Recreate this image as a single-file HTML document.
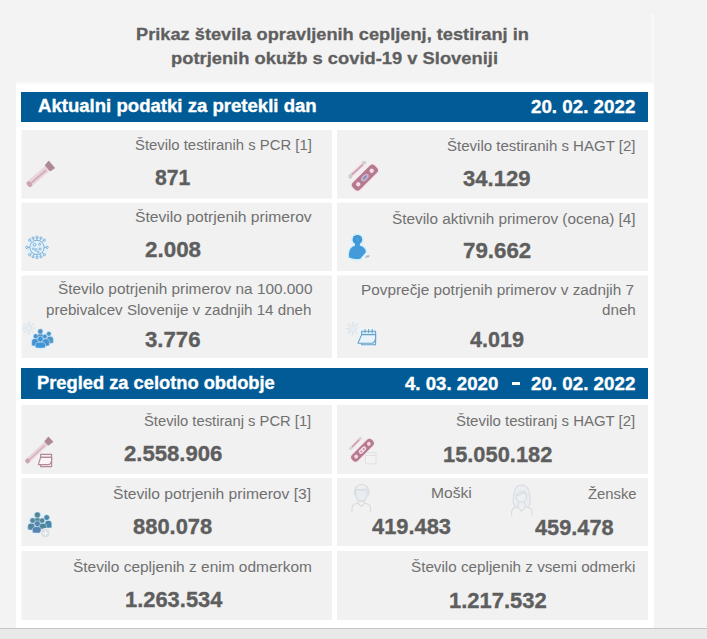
<!DOCTYPE html>
<html lang="sl"><head><meta charset="utf-8"><title>Covid-19 Slovenija</title>
<style>
html,body{margin:0;padding:0}
body{width:707px;height:639px;overflow:hidden;position:relative;font-family:"Liberation Sans", sans-serif}
.t{position:absolute;white-space:pre;transform-origin:0 0;display:block}
body{background:#f3f3f3}
.title{font-size:17.4px;font-weight:700;color:#5f5f5f;line-height:21px;-webkit-text-stroke:0.3px #5f5f5f;}
.hdr{font-size:18.3px;font-weight:700;color:#ffffff;line-height:22px;-webkit-text-stroke:0.35px #ffffff;}
.lab{font-size:15.5px;font-weight:400;color:#707070;line-height:19px;}
.val{font-size:22.7px;font-weight:700;color:#5e5e5e;line-height:27px;-webkit-text-stroke:0.35px #5e5e5e;}

.panel{position:absolute;left:16px;top:81px;width:638px;height:547px;background:linear-gradient(#f3f3f3,#fff 4px,#fff)}
.vline{position:absolute;left:651px;top:14px;width:3px;height:68px;background:#f8f8f8}
.bar{position:absolute;left:21px;width:627px;height:30px;background:#005b96}
.card{position:absolute;background:#f1f1f1}
.l{left:22px;width:310px;box-shadow:-1px 0 0 #f8f8f8}
.r{left:337px;width:311px}
.dash{position:absolute;left:512.2px;top:382px;width:7.7px;height:3px;background:#fff;color:transparent;font-size:1px;line-height:1px;overflow:hidden}
.foot{position:absolute;left:0;top:628px;width:707px;height:11px;background:#e9e9e9;border-top:1px solid #c6c6c6;box-sizing:border-box}
svg{position:absolute;overflow:visible}
</style></head><body>
<div class="vline"></div>
<div class="panel"></div>
<div class="bar" style="top:92px"></div>
<div class="bar" style="top:368px;height:31px"></div>
<div class="card l" style="top:130px;height:68px;box-shadow:-1px 0 0 #f8f8f8,0 1px 0 #f7f7f7"></div>
<div class="card r" style="top:130px;height:68px;box-shadow:0 1px 0 #f7f7f7"></div>
<div class="card l" style="top:203px;height:68px;box-shadow:-1px 0 0 #f8f8f8,0 -1px 0 #fbfbfb"></div>
<div class="card r" style="top:203px;height:68px;box-shadow:0 -1px 0 #fbfbfb"></div>
<div class="card l" style="top:276px;height:82px;box-shadow:-1px 0 0 #f8f8f8,0 -1px 0 #f7f7f7"></div>
<div class="card r" style="top:276px;height:82px;box-shadow:0 -1px 0 #f7f7f7"></div>
<div class="card l" style="top:405px;height:69px"></div>
<div class="card r" style="top:405px;height:69px"></div>
<div class="card l" style="top:478px;height:68px"></div>
<div class="card r" style="top:478px;height:68px"></div>
<div class="card l" style="top:551px;height:69px"></div>
<div class="card r" style="top:551px;height:69px"></div>
<div class="foot"></div>
<span class="dash">-</span>
<svg width="707" height="639" viewBox="0 0 707 639" style="left:0;top:0">
<defs>
 <g id="person"><circle cx="0" cy="-4.6" r="2.9"/><path d="M-4.6 4.6 C-4.6 -0.6 -2.6 -1.6 0 -1.6 C2.6 -1.6 4.6 -0.6 4.6 4.6 C2 5.6 -2 5.6 -4.6 4.6Z"/></g>
 <g id="tube">
  <rect x="-3.3" y="-11.5" width="6.6" height="27.5" rx="3.1" fill="#ead3db"/>
  <rect x="-0.4" y="-8" width="1.7" height="20" rx="0.8" fill="#cfaab8"/>
  <rect x="-3.1" y="11.8" width="6.2" height="4.2" rx="2.1" fill="#c9a4b2"/>
  <path d="M-4.4 -15.6 H4.4 L3.6 -10.6 H-3.6Z" fill="#ad8898" stroke="#ad8898" stroke-width="1" stroke-linejoin="round"/>
 </g>
 <g id="virusfaint" fill="none" stroke="#d9e2e9" stroke-width="0.9">
  <circle r="3.6" fill="#e6edf3"/>
  <path d="M0-3.6V-6 M0 3.6V6 M-3.6 0H-6 M3.6 0H6 M-2.5-2.5L-4.3-4.3 M2.5-2.5L4.3-4.3 M-2.5 2.5L-4.3 4.3 M2.5 2.5L4.3 4.3"/>
  <circle cx="0" cy="-6.3" r="0.9"/><circle cx="0" cy="6.3" r="0.9"/><circle cx="-6.3" cy="0" r="0.9"/><circle cx="6.3" cy="0" r="0.9"/>
  <circle cx="-4.6" cy="-4.6" r="0.9"/><circle cx="4.6" cy="-4.6" r="0.9"/><circle cx="-4.6" cy="4.6" r="0.9"/><circle cx="4.6" cy="4.6" r="0.9"/>
 </g>
</defs>

<!-- row1 left: PCR tube -->
<g transform="translate(39.8,175) rotate(49)"><use href="#tube"/></g>

<!-- row1 right: HAGT cassette + swab -->
<g>
 <line x1="351.4" y1="175" x2="362.8" y2="164.4" stroke="#f5e3ea" stroke-width="4.6" stroke-linecap="round"/>
 <line x1="352" y1="174.5" x2="362.4" y2="165" stroke="#cfa3b3" stroke-width="1.9" stroke-linecap="round"/>
 <ellipse cx="364" cy="162.8" rx="2.4" ry="1.7" fill="#cfcfcf"/><ellipse cx="350.4" cy="176.4" rx="2" ry="2.3" fill="#cdcdcd"/>
 <g transform="translate(364.9,177.6) rotate(-45)">
  <rect x="-16.6" y="-6.1" width="33.2" height="12.2" rx="4.6" fill="#f9e3eb"/>
  <rect x="-15.5" y="-5" width="31" height="10" rx="3.6" fill="#b47b90"/>
  <circle cx="-9.4" cy="0" r="2.2" fill="#fbdbe8"/><circle cx="9.6" cy="0" r="2.2" fill="#fbdbe8"/>
  <ellipse cx="0" cy="0" rx="4.6" ry="2.6" fill="#cdb6d2"/><ellipse cx="0" cy="0" rx="2.8" ry="1.3" fill="#8a8fb8"/>
 </g>
</g>

<!-- row2 left: virus -->
<g transform="translate(37,247.4) scale(0.94)" fill="none" stroke="#78acd3" stroke-width="0.95">
 <circle r="12.3" fill="#e4f1fa" stroke="none"/>
 <circle r="7.6" fill="#e0effa"/>
 <path d="M0-7.6V-10.2 M0 7.6V10.2 M-7.6 0H-10.2 M7.6 0H10.2 M-5.4-5.4L-7.2-7.2 M5.4-5.4L7.2-7.2 M-5.4 5.4L-7.2 7.2 M5.4 5.4L7.2 7.2 M-2.9-7L-3.9-9.4 M2.9-7L3.9-9.4 M-2.9 7L-3.9 9.4 M2.9 7L3.9 9.4"/>
 <circle cx="0" cy="-10.8" r="1.2"/><circle cx="0" cy="10.8" r="1.2"/><circle cx="-10.8" cy="0" r="1.2"/><circle cx="10.8" cy="0" r="1.2"/>
 <circle cx="-7.8" cy="-7.8" r="1.2"/><circle cx="7.8" cy="-7.8" r="1.2"/><circle cx="-7.8" cy="7.8" r="1.2"/><circle cx="7.8" cy="7.8" r="1.2"/>
 <circle cx="-4.2" cy="-10" r="1.1"/><circle cx="4.2" cy="-10" r="1.1"/><circle cx="4.2" cy="10" r="1.1"/><circle cx="-4.2" cy="10" r="1.1"/>
 <circle cx="-2.6" cy="-2.8" r="1.5"/><circle cx="2.8" cy="-3.4" r="1"/><circle cx="-1.2" cy="2.6" r="1.3"/><circle cx="3.2" cy="1.6" r="1.1"/><circle cx="-4.2" cy="1.4" r="0.8"/><circle cx="1.4" cy="5" r="0.8"/>
</g>

<!-- row2 right: person -->
<g>
 <g fill="#d3effb" stroke="#d3effb" stroke-width="3.2" stroke-linejoin="round"><circle cx="357.4" cy="239.7" r="4.8"/><path d="M349 257.2 C348.5 250 351 245.6 357.4 245.6 C363 245.6 365.7 249 365.9 252.4 L360.4 258.8 C356 259.4 351.8 258.8 349 257.2 Z"/></g>
 <path d="M360.6 258.6 L366.4 252.2 C368.4 252.6 369.6 254 369.8 255.6 L368.6 257 Z" fill="#e6f3fa"/>
 <path d="M366.8 255.4 L369.8 255.2 L368.8 257.2 L364.6 257.8 Z" fill="#aab4bc"/>
 <circle cx="357.4" cy="239.7" r="4.8" fill="#3f96d3"/>
 <rect x="354.9" y="243.2" width="5" height="3.5" fill="#439cd9"/>
 <path d="M349 257.2 C348.5 250 351 245.6 357.4 245.6 C363 245.6 365.7 249 365.9 252.2 L360.2 258.8 C356 259.4 351.8 258.8 349 257.2 Z" fill="#439cd9"/>
 <circle cx="357.6" cy="239.6" r="1.8" fill="#4aa3e0"/>
</g>

<!-- row3 left: group + faint virus -->
<g transform="translate(28.9,328.1) scale(0.85)"><use href="#virusfaint"/></g>
<g>
<circle cx="41.6" cy="339.8" r="11" fill="#e9f3f9"/>
<g fill="#5590c2" stroke="#c9e8f8" stroke-width="0.55"><path d="M37.00 340.00 V336.90 C37.00 334.54 38.34 333.80 40.35 333.80 C42.36 333.80 43.70 334.54 43.70 336.90 V340.00 C42.03 340.80 38.67 340.80 37.00 340.00Z"/><circle cx="40.35" cy="331.40" r="2.6"/></g>
<g fill="#4f97c6" stroke="#c9e8f8" stroke-width="0.55"><path d="M46.60 342.80 V339.50 C46.60 336.99 47.96 336.20 50.00 336.20 C52.04 336.20 53.40 336.99 53.40 339.50 V342.80 C51.70 343.60 48.30 343.60 46.60 342.80Z"/><circle cx="48.90" cy="333.80" r="2.4"/></g>
<g fill="#4a90cf" stroke="#c9e8f8" stroke-width="0.55"><path d="M31.70 345.40 V342.00 C31.70 339.42 33.08 338.60 35.15 338.60 C37.22 338.60 38.60 339.42 38.60 342.00 V345.40 C36.88 346.20 33.42 346.20 31.70 345.40Z"/><circle cx="35.70" cy="336.20" r="2.4"/></g>
<g fill="#4a90cf" stroke="#c9e8f8" stroke-width="0.55"><path d="M42.00 345.40 V342.10 C42.00 339.59 43.48 338.80 45.70 338.80 C47.92 338.80 49.40 339.59 49.40 342.10 V345.40 C47.55 346.20 43.85 346.20 42.00 345.40Z"/><circle cx="44.90" cy="336.50" r="2.3"/></g>
<g fill="#3f97d8" stroke="#c9e8f8" stroke-width="0.55"><path d="M35.30 347.60 V344.80 C35.30 342.67 37.34 342.00 40.40 342.00 C43.46 342.00 45.50 342.67 45.50 344.80 V347.60 C42.95 348.40 37.85 348.40 35.30 347.60Z"/><circle cx="40.35" cy="339.10" r="2.9"/></g>
</g>

<!-- row3 right: calendar + faint virus -->
<g transform="translate(352.8,328.6) scale(0.9)"><use href="#virusfaint"/></g>
<g fill="#d9ebf7" stroke="#6aa2c7" stroke-width="1.1" stroke-linejoin="round">
 <rect x="357.4" y="328" width="20" height="18.6" fill="#ecf4f9" stroke="none"/>
 <rect x="361.6" y="331.2" width="14" height="13.6"/>
 <path d="M361.6 334.6 H375.6" />
 <path d="M365 329.6V332.6 M368.6 329.6V332.6 M372.2 329.6V332.6" stroke-linecap="round"/>
 <path d="M361.6 334.6 L358 343.2 H371.6 C373.6 343.2 375 341.4 375.6 338.6 V334.6Z" fill="#e8f3fb"/>
</g>

<!-- row4 left: tube + calendar -->
<g transform="translate(38.4,450.8) rotate(47) scale(0.74,1.06)"><use href="#tube"/></g>
<g fill="#f6eef0" stroke="#b48a99" stroke-width="1.2" stroke-linejoin="round">
 <rect x="40.6" y="454.4" width="11" height="12.2"/>
 <path d="M40.6 457.4H51.6"/>
 <path d="M40.6 457.4 L38.4 464.6 H48.4 C50 464.6 51 463 51.6 460.6 V457.4Z" fill="#fbf5f7"/>
</g>

<!-- row4 right: cassette + faint calendar -->
<g>
 <g fill="#f3f3f3" stroke="#e0e0e0" stroke-width="1" stroke-linejoin="round"><rect x="365.4" y="452.6" width="10.6" height="11.2"/><path d="M365.4 455.4H376"/></g>
 <line x1="351.6" y1="447.4" x2="359.6" y2="439.2" stroke="#f4e4ea" stroke-width="4" stroke-linecap="round"/>
 <line x1="352.2" y1="446.8" x2="359" y2="439.8" stroke="#c9a3b1" stroke-width="1.7" stroke-linecap="round"/>
 <circle cx="360.4" cy="438.2" r="1.5" fill="#d8d8d8"/><circle cx="350.6" cy="448.6" r="1.7" fill="#d8d8d8"/>
 <g transform="translate(362.5,450.2) rotate(-45)">
  <rect x="-15" y="-5.1" width="30" height="10.2" rx="4.4" fill="#f8e2ea"/>
  <rect x="-14" y="-4.1" width="28" height="8.2" rx="3.6" fill="#b47b90"/>
  <circle cx="-9" cy="0" r="1.9" fill="#fbd5e5"/><circle cx="9" cy="0" r="1.9" fill="#fbd5e5"/>
  <rect x="-4.4" y="-2.1" width="8.8" height="4.2" rx="2.1" fill="#f6dbe6"/><circle cx="-1.7" cy="0" r="0.9" fill="#b98a9c"/><circle cx="1.7" cy="0" r="0.9" fill="#b98a9c"/>
 </g>
</g>

<!-- row5 left: group + plus -->
<g>
<circle cx="39.4" cy="524" r="12" fill="#eaf2f6"/>
<g fill="#4d8599" stroke="#cfe6f0" stroke-width="0.55"><path d="M33.60 524.00 V520.90 C33.60 518.54 35.12 517.80 37.40 517.80 C39.68 517.80 41.20 518.54 41.20 520.90 V524.00 C39.30 524.80 35.50 524.80 33.60 524.00Z"/><circle cx="37.40" cy="514.90" r="3.0"/></g>
<g fill="#4887a9" stroke="#cfe6f0" stroke-width="0.55"><path d="M44.80 527.40 V523.90 C44.80 521.24 46.20 520.40 48.30 520.40 C50.40 520.40 51.80 521.24 51.80 523.90 V527.40 C50.05 528.20 46.55 528.20 44.80 527.40Z"/><circle cx="46.70" cy="517.50" r="2.8"/></g>
<g fill="#50879f" stroke="#cfe6f0" stroke-width="0.55"><path d="M27.80 529.40 V526.30 C27.80 523.94 29.20 523.20 31.30 523.20 C33.40 523.20 34.80 523.94 34.80 526.30 V529.40 C33.05 530.20 29.55 530.20 27.80 529.40Z"/><circle cx="32.60" cy="520.50" r="2.7"/></g>
<g fill="#4d8599" stroke="#cfe6f0" stroke-width="0.55"><path d="M39.00 528.60 V525.90 C39.00 523.85 40.48 523.20 42.70 523.20 C44.92 523.20 46.40 523.85 46.40 525.90 V528.60 C44.55 529.40 40.85 529.40 39.00 528.60Z"/><circle cx="42.20" cy="520.50" r="2.6"/></g>
<g fill="#5682b4" stroke="#cfe6f0" stroke-width="0.55"><path d="M32.40 532.40 V529.50 C32.40 527.30 34.16 526.60 36.80 526.60 C39.44 526.60 41.20 527.30 41.20 529.50 V532.40 C39.00 533.20 34.60 533.20 32.40 532.40Z"/><circle cx="37.40" cy="523.70" r="2.9"/></g>
<circle cx="45.4" cy="533.2" r="4.7" fill="#d9dde0" stroke="#eef2f4" stroke-width="1.2"/>
<path d="M45.4 530.2V536.2 M42.4 533.2H48.4" stroke="#f1f3f4" stroke-width="1.5"/>
</g>

<!-- row5 right: man -->
<g fill="none" stroke="#d8dadc" stroke-width="1.15" stroke-linecap="round" stroke-linejoin="round">
 <path d="M354.7 494.6 C353.8 487.4 357.4 484.5 361.6 484.5 C366 484.5 369.6 487.4 368.7 494.6" fill="#eceef0"/>
 <path d="M355.7 489.8 H367 V494.2 C367 498.4 364.4 501.3 361.35 501.3 C358.3 501.3 355.7 498.4 355.7 494.2Z" fill="#e7edf1"/>
 <path d="M352 511.8 V508 C352 505 354.6 503.8 358 503.3 L361.3 506.4 L364.6 503.3 C368 503.8 370.5 505 370.5 508 V511.8"/>
 <path d="M358.6 500.6 L358 503.3 M364 500.6 L364.6 503.3"/>
</g>

<!-- row5 right: woman -->
<g fill="none" stroke="#dadde1" stroke-width="1.15" stroke-linecap="round" stroke-linejoin="round">
 <path d="M515.2 506.4 C512 503.4 513.2 499 513.8 494.6 C514.2 488.6 517.4 484.8 521.6 484.8 C525.8 484.8 529.2 488.6 529.6 494.6 C530.2 499 531.4 503.4 528.2 506.4" fill="#eaeef2"/>
 <circle cx="521.4" cy="497" r="5.2" fill="#edf0f3"/>
 <path d="M516.4 495.4 C519.4 495.2 523 493.4 524.6 491.2 C525.6 493.4 526.4 494.6 527 495.2"/>
 <path d="M511.6 515.6 V512 C511.6 508.8 514 507.4 517.8 506.6 L521.6 511.4 L525.4 506.6 C529.2 507.4 532.2 508.8 532.2 512 V515.6"/>
 <path d="M518.6 502 L517.8 506.6 M524.6 502 L525.4 506.6"/>
</g>
</svg>

<span class="t title" style="left:135.70px;top:24.00px;transform:scaleX(1.0477)">Prikaz števila opravljenih cepljenj, testiranj in</span>
<span class="t title" style="left:171.29px;top:48.00px;transform:scaleX(1.0541)">potrjenih okužb s covid-19 v Sloveniji</span>
<span class="t hdr" style="left:37.55px;top:95.00px;transform:scaleX(1.0162)">Aktualni podatki za pretekli dan</span>
<span class="t hdr" style="left:531.17px;top:96.00px;transform:scaleX(1.0262)">20. 02. 2022</span>
<span class="t hdr" style="left:37.40px;top:372.00px;transform:scaleX(1.0003)">Pregled za celotno obdobje</span>
<span class="t hdr" style="left:404.53px;top:373.00px;transform:scaleX(1.0199)">4. 03. 2020</span>
<span class="t hdr" style="left:531.17px;top:373.00px;transform:scaleX(1.0262)">20. 02. 2022</span>
<span class="t lab" style="left:135.03px;top:135.00px;transform:scaleX(0.9589)">Število testiranih s PCR [1]</span>
<span class="t val" style="left:154.52px;top:164.00px;transform:scaleX(0.9349)">871</span>
<span class="t lab" style="left:446.82px;top:136.00px;transform:scaleX(0.9695)">Število testiranih s HAGT [2]</span>
<span class="t val" style="left:463.18px;top:165.00px;transform:scaleX(0.9712)">34.129</span>
<span class="t lab" style="left:134.98px;top:207.00px;transform:scaleX(1.0103)">Število potrjenih primerov</span>
<span class="t val" style="left:144.93px;top:236.00px;transform:scaleX(0.9874)">2.008</span>
<span class="t lab" style="left:392.00px;top:209.00px;transform:scaleX(0.9888)">Število aktivnih primerov (ocena) [4]</span>
<span class="t val" style="left:463.16px;top:237.00px;transform:scaleX(0.9826)">79.662</span>
<span class="t lab" style="left:57.80px;top:279.00px;transform:scaleX(0.9909)">Število potrjenih primerov na 100.000</span>
<span class="t lab" style="left:46.25px;top:300.00px;transform:scaleX(0.9780)">prebivalcev Slovenije v zadnjih 14 dneh</span>
<span class="t val" style="left:144.57px;top:326.00px;transform:scaleX(0.9776)">3.776</span>
<span class="t lab" style="left:361.18px;top:280.00px;transform:scaleX(0.9906)">Povprečje potrjenih primerov v zadnjih 7</span>
<span class="t lab" style="left:601.95px;top:300.00px;transform:scaleX(0.9794)">dneh</span>
<span class="t val" style="left:469.93px;top:326.00px;transform:scaleX(0.9526)">4.019</span>
<span class="t lab" style="left:144.44px;top:411.00px;transform:scaleX(0.9515)">Število testiranj s PCR [1]</span>
<span class="t val" style="left:123.75px;top:440.00px;transform:scaleX(0.9751)">2.558.906</span>
<span class="t lab" style="left:456.42px;top:411.00px;transform:scaleX(0.9644)">Število testiranj s HAGT [2]</span>
<span class="t val" style="left:442.74px;top:441.00px;transform:scaleX(0.9630)">15.050.182</span>
<span class="t lab" style="left:113.38px;top:484.00px;transform:scaleX(1.0085)">Število potrjenih primerov [3]</span>
<span class="t val" style="left:132.90px;top:513.00px;transform:scaleX(0.9664)">880.078</span>
<span class="t lab" style="left:431.37px;top:483.00px;transform:scaleX(1.0089)">Moški</span>
<span class="t val" style="left:372.14px;top:513.00px;transform:scaleX(0.9637)">419.483</span>
<span class="t lab" style="left:587.61px;top:484.00px;transform:scaleX(0.9562)">Ženske</span>
<span class="t val" style="left:535.34px;top:514.00px;transform:scaleX(0.9579)">459.478</span>
<span class="t lab" style="left:73.39px;top:557.00px;transform:scaleX(0.9974)">Število cepljenih z enim odmerkom</span>
<span class="t val" style="left:124.73px;top:586.00px;transform:scaleX(0.9653)">1.263.534</span>
<span class="t lab" style="left:410.80px;top:557.00px;transform:scaleX(0.9826)">Število cepljenih z vsemi odmerki</span>
<span class="t val" style="left:448.53px;top:587.00px;transform:scaleX(0.9675)">1.217.532</span>
</body></html>
